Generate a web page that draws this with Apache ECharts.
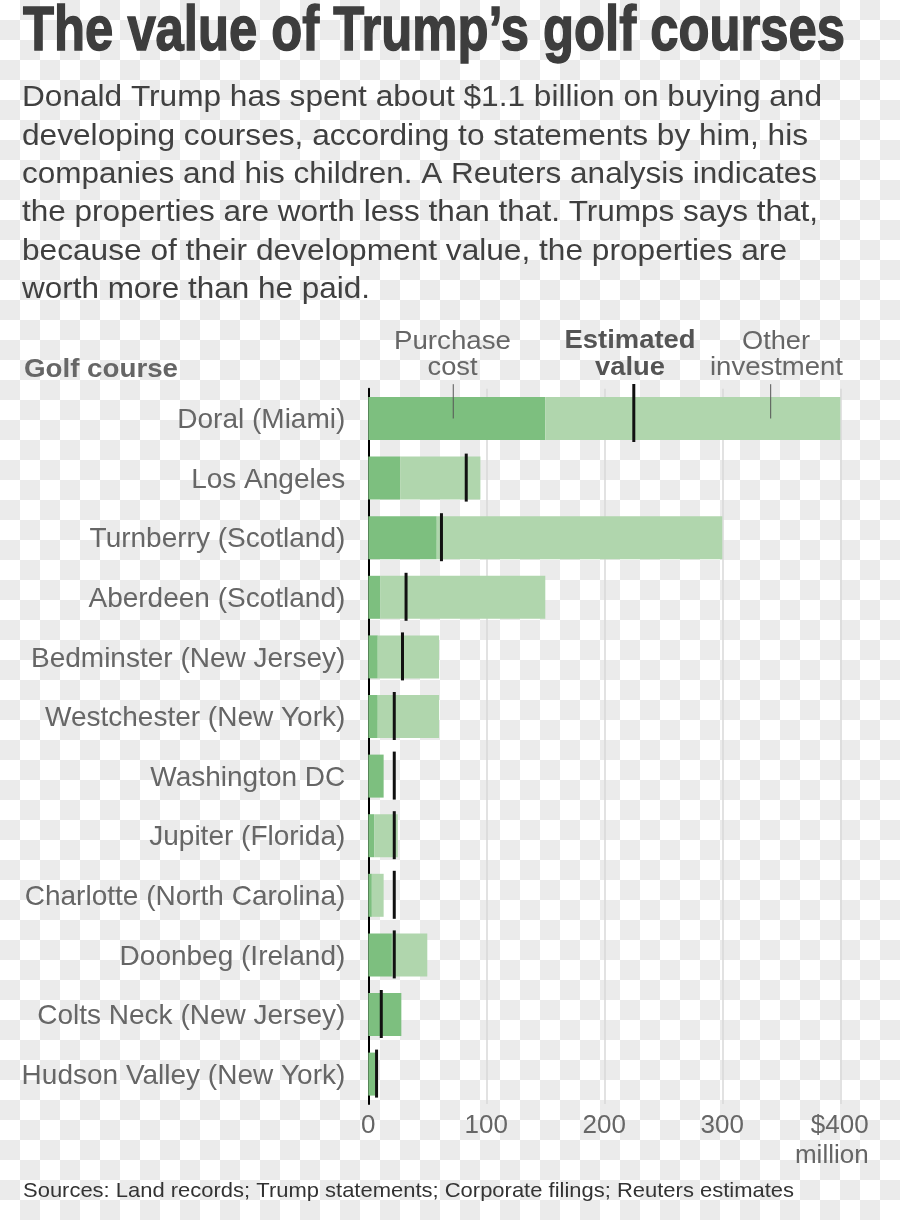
<!DOCTYPE html>
<html><head><meta charset="utf-8">
<script src="https://cdn.jsdelivr.net/npm/echarts/dist/echarts.min.js"></script>
<style>
html,body{margin:0;padding:0;}
body{width:900px;height:1220px;background:repeating-conic-gradient(#ebebeb 0% 25%, #ffffff 0% 50%) 0 0/40px 40px;}
#c{width:900px;height:1220px;}
</style></head><body><div id="c"></div>
<script>
// ---- data ----
const categories = ['Doral (Miami)','Los Angeles','Turnberry (Scotland)','Aberdeen (Scotland)','Bedminster (New Jersey)','Westchester (New York)','Washington DC','Jupiter (Florida)','Charlotte (North Carolina)','Doonbeg (Ireland)','Colts Neck (New Jersey)','Hudson Valley (New York)'];
const purchaseCost    = [150, 27, 58, 10, 8, 8, 13, 5, 3, 20, 28, 6];
const otherInvestment = [250, 68, 242, 140, 52, 52, 0, 20, 10, 30, 0, 0];
const estimatedValue  = [225, 83, 62, 32, 29, 22, 22, 22, 22, 22, 11, 7];
const xTickValues = [0, 100, 200, 300, 400];
const xTickLabels = ['0', '100', '200', '300', '$400'];
const xUnitLabel = 'million';
const titleText = 'The value of Trump’s golf courses';
const introLines = [
  'Donald Trump has spent about $1.1 billion on buying and',
  'developing courses, according to statements by him, his',
  'companies and his children. A Reuters analysis indicates',
  'the properties are worth less than that. Trumps says that,',
  'because of their development value, the properties are',
  'worth more than he paid.'
];
const sourceText = 'Sources: Land records; Trump statements; Corporate filings; Reuters estimates';

// ---- layout helpers ----
const FONT = "'Liberation Sans', Arial, sans-serif";
const mctx = document.createElement('canvas').getContext('2d');
function textEl(str, x, y, size, opts) {
  opts = opts || {};
  const weight = opts.weight || 'normal';
  let sx = 1;
  if (opts.width) {
    mctx.font = weight + ' ' + size + 'px ' + FONT;
    sx = opts.width / mctx.measureText(str).width;
  }
  const style = {
    text: str, fontSize: size, fontFamily: FONT, fontWeight: weight,
    fill: opts.color || '#666', align: opts.align || 'left', verticalAlign: 'middle'
  };
  if (opts.stroke) { style.stroke = opts.color; style.lineWidth = opts.stroke; }
  return { type: 'text', x: x, y: y + 2, scaleX: sx, z: 10, style: style };
}

const chart = echarts.init(document.getElementById('c'), null, {renderer: 'canvas'});
const GRID_TOP = 388.7, BAND = 59.6;

const option = {
  animation: false,
  backgroundColor: 'transparent',
  grid: { left: 368.3, right: 59.7, top: GRID_TOP, height: BAND * categories.length, containLabel: false },
  xAxis: {
    type: 'value', min: 0, max: 400, interval: 100,
    axisLine: { show: false }, axisTick: { show: false },
    splitLine: { show: true, lineStyle: { color: '#d8d8d8', width: 1.5 } },
    axisLabel: {
      margin: 7, fontSize: 26, lineHeight: 30, color: '#666', fontFamily: FONT,
      formatter: function (v) {
        const i = xTickValues.indexOf(v);
        const lab = i >= 0 ? xTickLabels[i] : String(v);
        if (v === 400) return '{r|' + lab + '}\n{r|' + xUnitLabel + '}';
        return lab;
      },
      rich: { r: { align: 'right', padding: [0, 17, 0, 0], fontSize: 26, lineHeight: 30, color: '#666', fontFamily: FONT } }
    }
  },
  yAxis: {
    type: 'category', inverse: true, data: categories,
    axisLine: { show: true, lineStyle: { color: '#000', width: 2 } },
    axisTick: { show: false },
    axisLabel: { fontSize: 28, color: '#666', margin: 23, fontFamily: FONT, verticalAlign: 'top', lineHeight: 4 }
  },
  series: [
    { name: 'Purchase cost', type: 'bar', stack: 'v', data: purchaseCost, barWidth: 43,
      itemStyle: { color: '#7dbf7f' }, z: 2 },
    { name: 'Other investment', type: 'bar', stack: 'v', data: otherInvestment, barWidth: 43,
      itemStyle: { color: '#b0d6ad' }, z: 2 },
    { name: 'Estimated value', type: 'custom', z: 5,
      data: estimatedValue.map(function (v, i) { return [v, i]; }),
      encode: { x: 0, y: 1 },
      renderItem: function (params, api) {
        const p = api.coord([api.value(0), api.value(1)]);
        const extra = params.dataIndex === 0 ? 10 : 0;
        return { type: 'rect', shape: { x: p[0] - 1.5, y: p[1] - 24.5 - extra, width: 3, height: 48 + extra },
                 style: { fill: '#111' } };
      }
    }
  ]
};
chart.setOption(option);

// legend pointers and texts
const pPurchase = chart.convertToPixel({gridIndex: 0}, [72, 0]);
const pOther = chart.convertToPixel({gridIndex: 0}, [341, 0]);
const graphics = [
  { type: 'line', z: 10, shape: { x1: pPurchase[0], y1: GRID_TOP - 4.5, x2: pPurchase[0], y2: pPurchase[1] }, style: { stroke: '#555', lineWidth: 1 } },
  { type: 'line', z: 10, shape: { x1: pOther[0], y1: GRID_TOP - 4.5, x2: pOther[0], y2: pOther[1] }, style: { stroke: '#555', lineWidth: 1 } },
  textEl(titleText, 23, 31, 63, { weight: 'bold', color: '#3d3d3d', width: 822, stroke: 1.5 }),
  textEl('Golf course', 24, 367.5, 26, { weight: 'bold', color: '#666', width: 154 }),
  textEl('Purchase', 452.5, 340, 25, { align: 'center', width: 117 }),
  textEl('cost', 452.5, 366, 25, { align: 'center', width: 50 }),
  textEl('Estimated', 630, 339.5, 25, { align: 'center', weight: 'bold', color: '#555', width: 131 }),
  textEl('value', 630, 366, 25, { align: 'center', weight: 'bold', color: '#555', width: 70 }),
  textEl('Other', 776, 340, 25, { align: 'center', width: 68 }),
  textEl('investment', 776.5, 366, 25, { align: 'center', width: 133 }),
  textEl(sourceText, 23, 1189, 21, { color: '#333', width: 771 })
];
const lineYs = [96, 134.3, 172.7, 211, 249.3, 287.7];
const lineWs = [800, 786, 795, 796, 765, 348];
introLines.forEach(function (s, i) {
  graphics.push(textEl(s, 22, lineYs[i], 30, { color: '#404040', width: lineWs[i] }));
});
chart.setOption({ graphic: graphics });
</script></body></html>
